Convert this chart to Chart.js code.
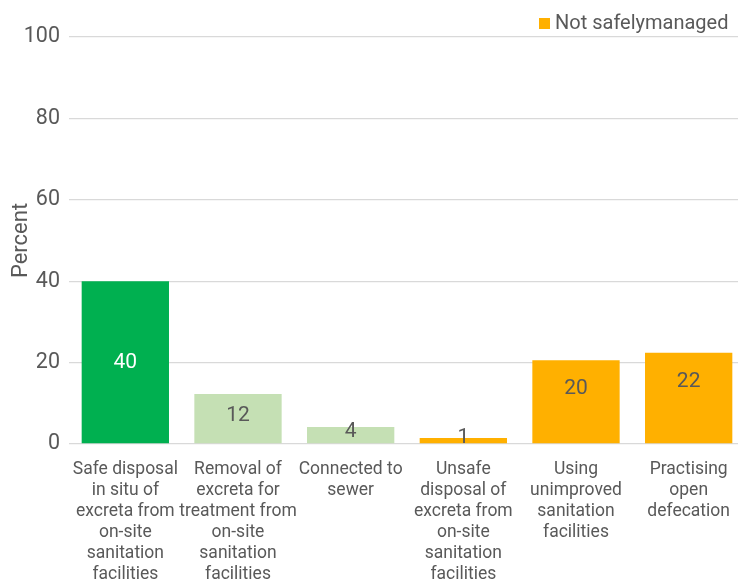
<!DOCTYPE html>
<html>
<head>
<meta charset="utf-8">
<script src="https://cdn.jsdelivr.net/npm/chart.js@4/dist/chart.umd.min.js"></script>
<style>
  html, body { margin: 0; padding: 0; background: #fff; overflow: hidden; }
  canvas { display: block; }
</style>
</head>
<body>
<canvas id="grafico" width="745" height="580"></canvas>
<script>
// Dados do gráfico
const categorias = [
    ['Safe disposal', 'in situ of', 'excreta from', 'on-site', 'sanitation', 'facilities'],
    ['Removal of', 'excreta for', 'treatment from', 'on-site', 'sanitation', 'facilities'],
    ['Connected to', 'sewer'],
    ['Unsafe', 'disposal of', 'excreta from', 'on-site', 'sanitation', 'facilities'],
    ['Using', 'unimproved', 'sanitation', 'facilities'],
    ['Practising', 'open', 'defecation']
];
const valores = [40.0, 12.3, 4.2, 1.5, 20.6, 22.4];
const rotulos = ['40', '12', '4', '1', '20', '22'];
const ticksY = [0, 20, 40, 60, 80, 100];
const legendaTexto = 'Not safelymanaged';

const FONTE = 'Roboto, "Liberation Sans", sans-serif';
const CINZA = '#595959';
const coresBarras = ['#00B050', '#C5E0B4', '#C5E0B4', '#FFB000', '#FFB000', '#FFB000'];
const coresRotulos = ['#ffffff', CINZA, CINZA, CINZA, CINZA, CINZA];

// Plugin para rótulos dentro das barras
const rotulosPlugin = {
    id: 'rotulos',
    afterDatasetsDraw(chart) {
        const ctx = chart.ctx;
        const meta = chart.getDatasetMeta(0);
        ctx.save();
        ctx.font = '21px ' + FONTE;
        ctx.textAlign = 'center';
        ctx.textBaseline = 'middle';
        meta.data.forEach((bar, i) => {
            const h = bar.base - bar.y;
            const y = h > 120 ? (bar.y + bar.base) / 2 : bar.y + Math.min(h / 2 - 3, 29);
            ctx.fillStyle = coresRotulos[i];
            ctx.fillText(rotulos[i], bar.x, y);
        });
        ctx.restore();
    }
};

// Plugin da legenda (um só item)
const legendaPlugin = {
    id: 'legenda',
    afterDraw(chart) {
        const ctx = chart.ctx;
        ctx.save();
        ctx.fillStyle = '#FFB000';
        ctx.fillRect(539, 18, 11, 11);
        ctx.font = '20px ' + FONTE;
        ctx.fillStyle = CINZA;
        ctx.textAlign = 'left';
        ctx.textBaseline = 'middle';
        ctx.fillText(legendaTexto, 555, 24);
        ctx.restore();
    }
};

new Chart(document.getElementById('grafico').getContext('2d'), {
    type: 'bar',
    data: {
        labels: categorias,
        datasets: [{
            label: legendaTexto,
            data: valores,
            backgroundColor: coresBarras,
            barPercentage: 0.775,
            categoryPercentage: 1
        }]
    },
    options: {
        responsive: false,
        animation: false,
        layout: { padding: { top: 37, left: 0, right: 0, bottom: 0 } },
        plugins: {
            legend: { display: false },
            tooltip: { enabled: false }
        },
        scales: {
            x: {
                grid: { display: false },
                border: { display: false },
                ticks: {
                    color: CINZA,
                    font: { family: FONTE, size: 17.5, lineHeight: 1.2 },
                    padding: 7,
                    maxRotation: 0,
                    autoSkip: false
                },
                afterFit(scale) { scale.height = 136; }
            },
            y: {
                min: 0,
                max: 100,
                afterBuildTicks(scale) { scale.ticks = ticksY.map(v => ({ value: v })); },
                grid: { color: '#d9d9d9', lineWidth: 1.3, drawTicks: false },
                border: { display: false },
                ticks: {
                    color: CINZA,
                    font: { family: FONTE, size: 21.5 },
                    padding: 9
                },
                title: {
                    display: true,
                    text: 'Percent',
                    color: CINZA,
                    font: { family: FONTE, size: 22 },
                    padding: { top: 8, bottom: 0 }
                },
                afterFit(scale) { scale.width = 69; }
            }
        }
    },
    plugins: [rotulosPlugin, legendaPlugin]
});
</script>
</body>
</html>
